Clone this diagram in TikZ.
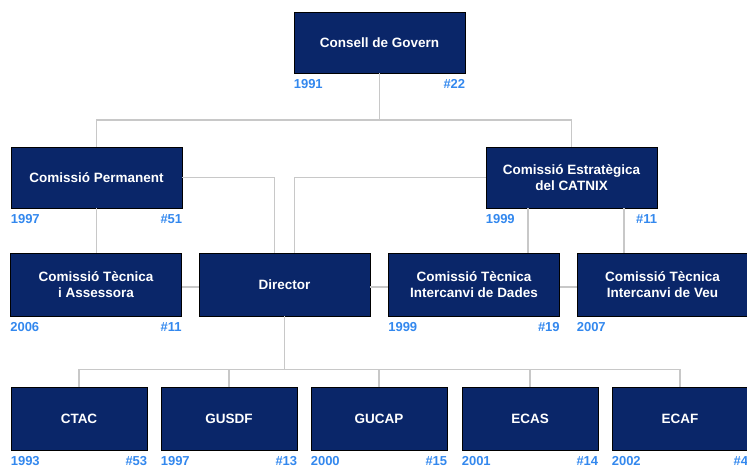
\documentclass[tikz,border=0pt]{standalone}
\usepackage{fontspec}
\setmainfont{Liberation Sans}
\definecolor{navy}{RGB}{10,38,105}
\definecolor{lbl}{RGB}{51,136,238}
\definecolor{conn}{RGB}{200,200,200}
\begin{document}
\begin{tikzpicture}[x=1pt,y=-1pt,
  box/.style={draw=black,line width=0.8pt,fill=navy,text=white,font=\fontsize{13.5}{16.5}\selectfont\bfseries,align=center,inner sep=0pt},
  wbox/.style={box,minimum width=171pt,minimum height=61pt},
  mbox/.style={box,minimum width=171pt,minimum height=63pt},
  sbox/.style={box,minimum width=136pt,minimum height=63pt},
  lab/.style={text=lbl,font=\fontsize{13}{15}\selectfont\bfseries,inner sep=0pt},
  conn/.style={draw=conn,line width=1.5pt}]
\useasboundingbox (0,0) rectangle (747,468);
\coordinate (j1) at (379.5,120);
\coordinate (j2) at (284.5,369.5);
% boxes
\node[wbox] (cg) at (379.5,42.5) {Consell de Govern};
\node[wbox] (cp) at (96.5,177.5) {Comissió Permanent};
\node[wbox] (ce) at (571.5,177.5) {Comissió Estratègica\\del CATNIX};
\node[mbox] (cta) at (96,284.5) {Comissió Tècnica\\i Assessora};
\node[mbox] (dir) at (284.5,284.5) {Director};
\node[mbox] (ctd) at (474,284.5) {Comissió Tècnica\\Intercanvi de Dades};
\node[mbox] (ctv) at (662.5,284.5) {Comissió Tècnica\\Intercanvi de Veu};
\node[sbox] (ctac) at (79,419) {CTAC};
\node[sbox] (gusdf) at (229,419) {GUSDF};
\node[sbox] (gucap) at (379,419) {GUCAP};
\node[sbox] (ecas) at (530,419) {ECAS};
\node[sbox] (ecaf) at (680,419) {ECAF};
% labels
\node[lab,anchor=base west] (l1) at ([yshift=-15pt]cg.south west) {1991};
\node[lab,anchor=base east] (r1) at ([yshift=-15pt]cg.south east) {\#22};
\node[lab,anchor=base west] (l2) at ([yshift=-15pt]cp.south west) {1997};
\node[lab,anchor=base east] (r2) at ([yshift=-15pt]cp.south east) {\#51};
\node[lab,anchor=base west] (l3) at ([yshift=-15pt]ce.south west) {1999};
\node[lab,anchor=base east] (r3) at ([yshift=-15pt]ce.south east) {\#11};
\node[lab,anchor=base west] (l4) at ([yshift=-15pt]cta.south west) {2006};
\node[lab,anchor=base east] (r4) at ([yshift=-15pt]cta.south east) {\#11};
\node[lab,anchor=base west] (l5) at ([yshift=-15pt]ctd.south west) {1999};
\node[lab,anchor=base east] (r5) at ([yshift=-15pt]ctd.south east) {\#19};
\node[lab,anchor=base west] (l6) at ([yshift=-15pt]ctv.south west) {2007};
\node[lab,anchor=base west] (l7) at ([yshift=-14.5pt]ctac.south west) {1993};
\node[lab,anchor=base east] (r7) at ([yshift=-14.5pt]ctac.south east) {\#53};
\node[lab,anchor=base west] (l8) at ([yshift=-14.5pt]gusdf.south west) {1997};
\node[lab,anchor=base east] (r8) at ([yshift=-14.5pt]gusdf.south east) {\#13};
\node[lab,anchor=base west] (l9) at ([yshift=-14.5pt]gucap.south west) {2000};
\node[lab,anchor=base east] (r9) at ([yshift=-14.5pt]gucap.south east) {\#15};
\node[lab,anchor=base west] (l10) at ([yshift=-14.5pt]ecas.south west) {2001};
\node[lab,anchor=base east] (r10) at ([yshift=-14.5pt]ecas.south east) {\#14};
\node[lab,anchor=base west] (l11) at ([yshift=-14.5pt]ecaf.south west) {2002};
\node[lab,anchor=base east] (r11) at ([yshift=-14.5pt]ecaf.south east) {\#4};
% connectors
\draw[conn] (cg.south) -- (j1);
\draw[conn] (j1) -| (cp.north);
\draw[conn] (j1) -| (ce.north);
\coordinate (d1) at ([xshift=-10pt]dir.north);
\coordinate (d2) at ([xshift=10pt]dir.north);
\draw[conn] (cp.east) -| (d1);
\draw[conn] (ce.west) -| (d2);
\draw[conn] (cp.south) -- (cta.north -| cp.south);
\coordinate (e1) at ([xshift=-43.5pt]ce.south);
\coordinate (e2) at ([xshift=52.5pt]ce.south);
\draw[conn] (e1) -- (e1 |- ctd.north);
\draw[conn] (e2) -- (e2 |- ctv.north);
\draw[conn] ([yshift=-2.5pt]cta.east) -- ([yshift=-2.5pt]dir.west);
\draw[conn] ([yshift=-2.5pt]dir.east) -- ([yshift=-2.5pt]ctd.west);
\draw[conn] ([yshift=-2.5pt]ctd.east) -- ([yshift=-2.5pt]ctv.west);
\draw[conn] (dir.south) -- (j2);
\draw[conn] (ctac.north) |- (j2);
\draw[conn] (j2) -| (ecaf.north);
\draw[conn] (gusdf.north) -- (gusdf.north |- j2);
\draw[conn] (gucap.north) -- (gucap.north |- j2);
\draw[conn] (ecas.north) -- (ecas.north |- j2);
\end{tikzpicture}
\end{document}
